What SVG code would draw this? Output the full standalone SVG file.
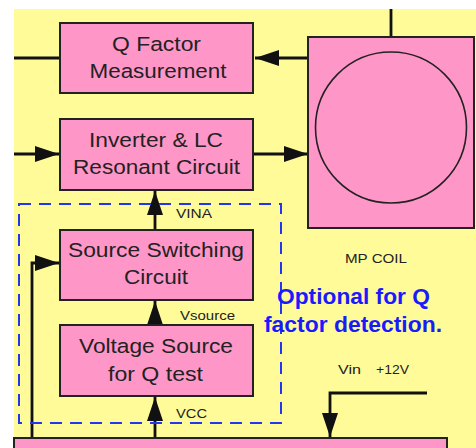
<svg xmlns="http://www.w3.org/2000/svg" width="476" height="448" viewBox="0 0 476 448">
<defs>
<style>
.box{fill:#FF96C8;stroke:#222;stroke-width:2}
.ln{fill:none;stroke:#111;stroke-width:2.8}
.t{font-family:"Liberation Sans",Arial,sans-serif;font-size:20.5px;fill:#222;text-anchor:middle}
.s{font-family:"Liberation Sans",Arial,sans-serif;font-size:13.5px;fill:#222}
.opt{font-family:"Liberation Sans",Arial,sans-serif;font-size:22px;font-weight:bold;fill:#1a1aff;text-anchor:middle}
</style>
<marker id="ah" markerUnits="userSpaceOnUse" markerWidth="26" markerHeight="16" refX="24" refY="8" orient="auto">
<path d="M0,0 L24,8 L0,16 Z" fill="#111"/>
</marker>
</defs>
<rect x="0" y="0" width="476" height="448" fill="#fff"/>
<rect x="14" y="9" width="462" height="439" fill="#FFFB99"/>

<g id="connectors">
<line class="ln" x1="14" y1="58" x2="60" y2="58"/>
<line class="ln" x1="308" y1="58" x2="255" y2="58" marker-end="url(#ah)"/>
<line class="ln" x1="391" y1="9" x2="391" y2="37"/>
<line class="ln" x1="14" y1="154" x2="59" y2="154" marker-end="url(#ah)"/>
<line class="ln" x1="253" y1="154" x2="308" y2="154" marker-end="url(#ah)"/>
<line class="ln" x1="155" y1="230" x2="155" y2="191" marker-end="url(#ah)"/>
<line class="ln" x1="155" y1="325" x2="155" y2="301" marker-end="url(#ah)"/>
<line class="ln" x1="155" y1="438" x2="155" y2="397" marker-end="url(#ah)"/>
<polyline class="ln" points="32,438 32,263 59,263" marker-end="url(#ah)"/>
<polyline class="ln" points="427,393 330,393 330,437" marker-end="url(#ah)"/>
</g>

<rect x="19" y="204" width="262" height="219" fill="none" stroke="#2236f0" stroke-width="2" stroke-dasharray="12 8"/>

<g id="qfactor">
<rect class="box" x="60" y="23" width="193" height="70"/>
<text class="t" x="156.5" y="51" textLength="89" lengthAdjust="spacingAndGlyphs">Q Factor</text>
<text class="t" x="158" y="78" textLength="137" lengthAdjust="spacingAndGlyphs">Measurement</text>
</g>

<g id="inverter">
<rect class="box" x="60" y="119" width="193" height="71"/>
<text class="t" x="156" y="147" textLength="134" lengthAdjust="spacingAndGlyphs">Inverter &amp; LC</text>
<text class="t" x="156.5" y="174" textLength="167" lengthAdjust="spacingAndGlyphs">Resonant Circuit</text>
</g>

<g id="switching">
<rect class="box" x="60" y="230" width="193" height="70"/>
<text class="t" x="156" y="257" textLength="176" lengthAdjust="spacingAndGlyphs">Source Switching</text>
<text class="t" x="156" y="284" textLength="64" lengthAdjust="spacingAndGlyphs">Circuit</text>
</g>

<g id="vsource">
<rect class="box" x="60" y="325" width="193" height="71"/>
<text class="t" x="156" y="353" textLength="154" lengthAdjust="spacingAndGlyphs">Voltage Source</text>
<text class="t" x="155.5" y="381" textLength="95" lengthAdjust="spacingAndGlyphs">for Q test</text>
</g>

<g id="coil">
<rect class="box" x="308" y="37" width="166" height="191"/>
<circle cx="391" cy="127.5" r="75.5" fill="none" stroke="#222" stroke-width="1.6"/>
<text class="s" x="345" y="263" textLength="62" lengthAdjust="spacingAndGlyphs">MP COIL</text>
</g>

<g id="mainboard">
<rect class="box" x="14" y="438" width="433" height="20"/>
</g>

<g id="labels">
<text class="s" x="176" y="218" textLength="36" lengthAdjust="spacingAndGlyphs">VINA</text>
<text class="s" x="180" y="320" textLength="55" lengthAdjust="spacingAndGlyphs">Vsource</text>
<text class="s" x="176" y="418" textLength="31" lengthAdjust="spacingAndGlyphs">VCC</text>
<text class="s" x="338" y="374"><tspan x="338" textLength="23" lengthAdjust="spacingAndGlyphs">Vin</tspan><tspan x="376" textLength="33" lengthAdjust="spacingAndGlyphs">+12V</tspan></text>
<text class="opt" x="353.5" y="304" textLength="153" lengthAdjust="spacingAndGlyphs">Optional for Q</text>
<text class="opt" x="353" y="332" textLength="178" lengthAdjust="spacingAndGlyphs">factor detection.</text>
</g>
</svg>
